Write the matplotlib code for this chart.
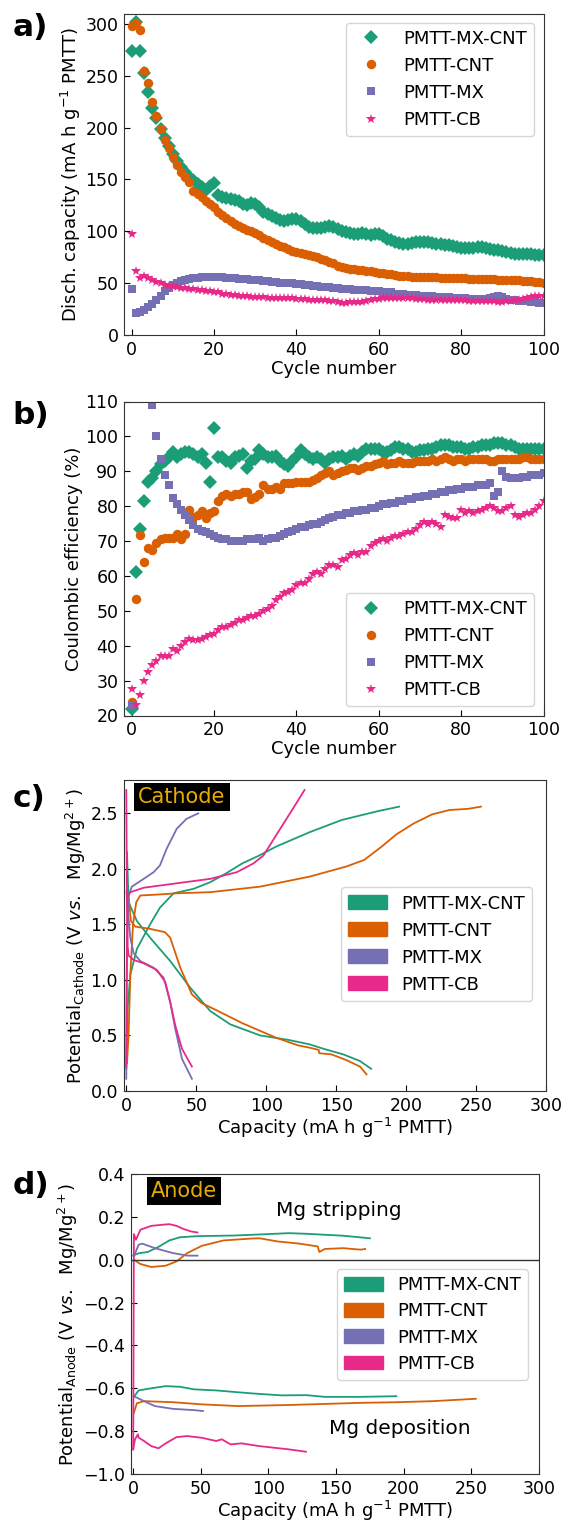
import numpy as np
import matplotlib
matplotlib.use("Agg")
import matplotlib.pyplot as plt
import matplotlib.patches as mpatches

labels = ["PMTT-MX-CNT", "PMTT-CNT", "PMTT-MX", "PMTT-CB"]
colors = ["#1b9e77", "#d95f02", "#7570b3", "#e7298a"]
markers = ["D", "o", "s", "*"]
msizes = [6.8, 6.8, 5.5, 7.5]

cycles = np.arange(101)

# a) discharge capacity (mA h g-1)
cap_mxcnt = [274, 302, 274, 253, 234, 219, 209, 199, 190, 182,
             175, 168, 162, 157, 152, 149, 146, 143, 140, 144,
             147, 135, 133, 132, 131, 130, 129, 126, 125, 127,
             126, 123, 119, 117, 115, 113, 111, 110, 111, 112,
             112, 110, 107, 104, 103, 103, 103, 104, 105, 104,
             102, 100, 99, 98, 97, 97, 98, 97, 96, 97,
             97, 95, 93, 92, 90, 89, 88, 88, 89, 90,
             90, 90, 90, 89, 88, 88, 87, 87, 86, 85,
             84, 84, 84, 84, 85, 85, 84, 83, 82, 82,
             81, 80, 79, 78, 78, 78, 78, 78, 77, 77, 77]
cap_cnt = [298, 301, 294, 255, 243, 225, 211, 199, 188, 180,
           172, 164, 157, 152, 148, 139, 136, 133, 129, 126,
           123, 119, 116, 113, 110, 107, 105, 103, 101, 100,
           98, 96, 94, 92, 90, 88, 86, 85, 83, 81,
           80, 79, 78, 77, 76, 75, 73, 72, 70, 69,
           67, 66, 65, 64, 64, 63, 63, 62, 62, 61,
           60, 60, 59, 59, 58, 57, 57, 57, 56, 56,
           56, 56, 56, 56, 56, 55, 55, 55, 55, 55,
           55, 55, 54, 54, 54, 54, 54, 54, 54, 53,
           53, 53, 53, 53, 53, 52, 52, 52, 51, 51, 50]
cap_mx = [44, 21, 22, 24, 27, 30, 34, 38, 42, 45,
          48, 50, 52, 53, 54, 55, 55, 56, 56, 56,
          56, 56, 56, 55, 55, 55, 54, 54, 54, 53,
          53, 53, 52, 52, 51, 51, 50, 50, 50, 50,
          49, 49, 48, 48, 47, 47, 46, 46, 46, 45,
          45, 44, 44, 44, 43, 43, 43, 43, 42, 42,
          42, 41, 41, 41, 40, 40, 40, 39, 39, 39,
          38, 38, 38, 38, 37, 37, 37, 37, 36, 36,
          36, 36, 35, 35, 35, 35, 35, 36, 37, 38,
          37, 35, 34, 34, 33, 33, 33, 32, 32, 31, 31]
cap_cb = [97, 62, 55, 57, 55, 53, 51, 50, 48, 47,
          47, 46, 45, 45, 44, 44, 43, 43, 42, 42,
          41, 41, 40, 40, 39, 39, 38, 38, 38, 37,
          37, 37, 37, 36, 36, 36, 36, 36, 36, 36,
          35, 35, 35, 34, 34, 34, 34, 34, 33, 33,
          32, 31, 31, 32, 32, 32, 32, 33, 34, 35,
          35, 36, 36, 36, 36, 36, 36, 36, 36, 35,
          35, 35, 34, 34, 34, 34, 34, 34, 34, 34,
          34, 34, 33, 33, 33, 33, 33, 33, 33, 32,
          32, 33, 33, 34, 34, 35, 36, 37, 38, 38, 38]

# b) coulombic efficiency (%)
ce_mxcnt = [22, 61, 73.5, 81.5, 87, 88, 90, 92, 93, 94,
            95.5, 94, 95, 95.5, 95.5, 95, 94, 95, 92.5, 87,
            102.5, 94, 94, 93, 92.5, 94, 94.5, 95, 91, 93,
            93.5, 96, 95, 94, 94, 94.5, 93, 92, 91.5, 93,
            94, 96, 95, 94, 93.5, 94, 93.5, 92.5, 93.5, 94,
            94, 94.5, 93.5, 94.5, 95, 94.5, 95.5, 96.5, 96.5, 96.5,
            96.5, 95.5, 95.5, 96, 97, 97, 96.5, 96.5, 95.5, 95.5,
            96, 96, 96.5, 96.5, 97, 97.5, 97.5, 97.5, 97, 97,
            97, 96.5, 96.5, 97, 97, 97.5, 97.5, 97.5, 98, 98,
            98, 97.5, 97.5, 97, 96.5, 96.5, 96.5, 96.5, 96.5, 96.5, 96.5]
ce_cnt = [24, 53.3, 71.6, 64, 68, 67.5, 69.5, 70.5, 71, 71,
          71, 72, 70.5, 72, 79, 77, 77.5, 78.5, 76.5, 78,
          78.5, 81.5, 83, 83.5, 83, 83.5, 83.5, 84, 84, 82,
          82.5, 83.5, 86, 85, 85, 85.5, 85, 86.5, 86.5, 86.5,
          87, 87, 87, 87, 87.5, 88, 89, 89.5, 90, 89,
          89.5, 90, 90.5, 91, 91, 90.5, 91, 91.5, 91.5, 92,
          92.5, 93, 92, 92.5, 92.5, 93, 92.5, 92.5, 92.5, 93,
          93, 93, 93, 93.5, 93, 93.5, 94, 93.5, 93, 93.5,
          93.5, 93, 93.5, 93.5, 93.5, 93.5, 93.5, 93, 93, 93.5,
          93.5, 93.5, 93.5, 93.5, 93.5, 94, 94, 93.5, 93.5, 93.5, 93.5]
ce_mx = [23, np.nan, np.nan, np.nan, np.nan, 109, 100, 93.6, 89, 86,
         82.2, 80.5, 79, 77.6, 76, 74.5, 73.5, 73, 72.5, 72,
         71.5, 71, 70.5, 70.5, 70, 70, 70, 70, 70.5, 70.5,
         70.5, 71, 70, 70.5, 71, 71, 71.5, 72, 72.5, 73,
         73.5, 74, 74, 74.5, 75, 75, 75.5, 76, 76.5, 77,
         77.5, 77.5, 78, 78, 78.5, 78.5, 79, 79, 79.5, 79.5,
         80, 80.5, 80.5, 81, 81, 81.5, 81.5, 82, 82, 82.5,
         82.5, 83, 83, 83.5, 83.5, 84, 84, 84.5, 84.5, 85,
         85, 85.5, 85.5, 85.5, 86, 86, 86, 86.5, 83, 84,
         90, 88.5, 88, 88, 88, 88.5, 88.5, 89, 89, 89, 89.5]
ce_cb = [27.5, 23, 26, 30, 32.5, 34.5, 35.5, 37, 37, 37,
         39, 38.5, 40, 41, 42, 41.5, 41.5, 42, 42.5, 43,
         43.5, 44.5, 45.5, 45.5, 46, 46.5, 47.5, 47.5, 48, 48.5,
         48.5, 49, 50, 50.5, 51.5, 53, 54, 55, 55.5, 56,
         57.5, 58, 58, 59, 60.5, 61, 60.5, 62, 63, 63,
         62.5, 64.5, 65, 66, 66.5, 66, 67, 67, 68.5, 69.5,
         70, 70.5, 70, 71, 71.5, 71.5, 72, 72.5, 72.5, 73.5,
         74.5, 75.5, 75, 75.5, 75, 74, 77.5, 77, 76.5, 76.5,
         79, 78, 78.5, 78, 78.5, 79, 79.5, 80, 79.5, 78.5,
         78.5, 79.5, 80, 77.5, 77, 77.5, 78, 78, 79, 80, 81.5]

# c) cathode potential profiles: (capacity, potential)
cath_dis = {
    "PMTT-MX-CNT": ([0.5, 1.6, 7.6, 17, 31.4, 45.7, 60, 74.3, 95.7, 116, 131, 141, 155, 167, 175],
                    [2.15, 1.70, 1.53, 1.38, 1.17, 0.93, 0.72, 0.60, 0.50, 0.46, 0.42, 0.38, 0.33, 0.27, 0.20]),
    "PMTT-CNT": ([0.5, 1.6, 3.3, 6.4, 17, 27.6, 31.4, 38.6, 46.9, 54, 64, 83, 107, 123, 131, 137.5, 138, 146.5, 157, 167, 171.7],
                 [1.78, 1.76, 1.53, 1.48, 1.46, 1.43, 1.38, 1.11, 0.87, 0.79, 0.73, 0.61, 0.48, 0.41, 0.39, 0.37, 0.34, 0.33, 0.28, 0.22, 0.15]),
    "PMTT-MX": ([0.2, 0.5, 2.9, 5.2, 10, 19.5, 26.7, 31.4, 35, 39.8, 46.9],
                [1.80, 1.70, 1.38, 1.24, 1.17, 1.11, 1.02, 0.80, 0.56, 0.29, 0.11]),
    "PMTT-CB": ([0, 0.4, 1.0, 1.6, 5.2, 12.4, 21.9, 27.9, 31.4, 35, 39.8, 46.9],
                [2.71, 1.85, 1.30, 1.22, 1.18, 1.15, 1.09, 0.98, 0.80, 0.59, 0.38, 0.22]),
}
cath_chg = {
    "PMTT-MX-CNT": ([0, 0.95, 2.9, 7.6, 17, 24, 33.8, 48, 60, 71.4, 83, 95, 107, 131, 154, 180, 195],
                    [0.20, 0.75, 1.05, 1.28, 1.50, 1.65, 1.78, 1.82, 1.88, 1.96, 2.05, 2.12, 2.20, 2.33, 2.44, 2.52, 2.56]),
    "PMTT-CNT": ([0.5, 1.6, 2.9, 4.8, 7.1, 10, 24, 36, 60, 95.7, 131, 157, 170, 182.5, 193, 205.6, 218.5, 231, 244, 253.5],
                 [0.25, 0.50, 1.05, 1.50, 1.70, 1.76, 1.77, 1.78, 1.79, 1.84, 1.93, 2.02, 2.08, 2.20, 2.31, 2.41, 2.49, 2.53, 2.54, 2.56]),
    "PMTT-MX": ([0, 0.5, 1.6, 4, 12.4, 19.5, 24, 28.8, 36, 43, 51.4],
                [0.11, 1.35, 1.76, 1.84, 1.91, 1.97, 2.03, 2.18, 2.36, 2.45, 2.50]),
    "PMTT-CB": ([0, 0.3, 0.8, 2.9, 12.4, 36, 60, 79, 91, 98, 107, 119, 127.4],
                [0.22, 1.0, 1.75, 1.79, 1.83, 1.87, 1.91, 1.97, 2.05, 2.12, 2.30, 2.54, 2.71]),
}

# d) anode potential profiles: (capacity, potential)
anode_strip = {
    "PMTT-MX-CNT": ([0, 4, 10.7, 18.7, 26.7, 34.7, 48, 75, 101.5, 115, 128, 155, 175],
                    [0.02, 0.03, 0.036, 0.06, 0.09, 0.105, 0.11, 0.113, 0.12, 0.124, 0.121, 0.112, 0.10]),
    "PMTT-CNT": ([0.5, 5.3, 13.4, 24, 32, 40, 50.8, 66.8, 88, 93.5, 107, 123, 136.4, 137.6, 141.6, 155, 168, 171.5],
                 [0.0, -0.02, -0.034, -0.028, -0.008, 0.031, 0.065, 0.09, 0.099, 0.10, 0.085, 0.075, 0.062, 0.036, 0.05, 0.054, 0.047, 0.05]),
    "PMTT-MX": ([0.5, 4, 6.7, 16, 29.4, 40, 47.5],
                [0.016, 0.07, 0.075, 0.054, 0.031, 0.019, 0.019]),
    "PMTT-CB": ([0, 0.5, 2, 5.3, 13.4, 21.4, 26.7, 32, 37.4, 42.7, 47.5],
                [-0.885, 0.12, 0.093, 0.14, 0.158, 0.163, 0.166, 0.158, 0.143, 0.132, 0.127]),
}
anode_dep = {
    "PMTT-MX-CNT": ([0.5, 4, 13.4, 24, 34.7, 45, 61.4, 88, 109.5, 128, 141.6, 168, 194.5],
                    [-0.64, -0.61, -0.60, -0.59, -0.593, -0.605, -0.61, -0.624, -0.633, -0.632, -0.64, -0.64, -0.637]),
    "PMTT-CNT": ([0.5, 2.7, 8, 29.4, 50.8, 77.5, 115, 168, 195, 221.7, 253.3],
                 [-0.714, -0.67, -0.66, -0.665, -0.675, -0.683, -0.678, -0.668, -0.665, -0.66, -0.649]),
    "PMTT-MX": ([0.5, 8, 16, 29.4, 45, 51.6],
                [-0.637, -0.66, -0.683, -0.696, -0.702, -0.706]),
    "PMTT-CB": ([0, 1.3, 3.5, 4, 8, 13.4, 18.7, 24, 32, 40, 50.8, 61.4, 65.5, 72, 80, 93.5, 115, 127.7],
                [-0.885, -0.838, -0.815, -0.83, -0.846, -0.87, -0.88, -0.857, -0.828, -0.823, -0.831, -0.846, -0.838, -0.862, -0.857, -0.87, -0.885, -0.896]),
}

plt.rcParams["font.family"] = "DejaVu Sans"
plt.rcParams["font.size"] = 13
plt.rcParams["xtick.labelsize"] = 12.5
plt.rcParams["ytick.labelsize"] = 12.5
plt.rcParams["axes.edgecolor"] = "#333333"
plt.rcParams["xtick.direction"] = "in"
plt.rcParams["ytick.direction"] = "in"

fig = plt.figure(figsize=(5.63, 15.23), dpi=100)
W, H = 563.0, 1523.0


def add_ax(left, top, right, bottom):
    return fig.add_axes([left / W, 1 - bottom / H, (right - left) / W, (bottom - top) / H])


ax_a = add_ax(124, 13.5, 543.5, 335)
ax_b = add_ax(124, 401.5, 543.5, 715.5)
ax_c = add_ax(123.5, 780, 546, 1091)
ax_d = add_ax(130.5, 1174, 539, 1474)

# panel a
for y, lab, c, m, s in zip([cap_mxcnt, cap_cnt, cap_mx, cap_cb], labels, colors, markers, msizes):
    ax_a.plot(cycles, y, ls="none", marker=m, ms=s, color=c, mew=0, label=lab)
ax_a.set_xlim(-1.87, 100)
ax_a.set_ylim(0, 310)
ax_a.set_yticks(range(0, 301, 50))
ax_a.set_xticks(range(0, 101, 20))
ax_a.set_xlabel("Cycle number", labelpad=1)
ax_a.set_ylabel("Disch. capacity (mA h g$^{-1}$ PMTT)", labelpad=2)
ax_a.legend(loc="upper right", borderaxespad=0.5)

# panel b
for y, lab, c, m, s in zip([ce_mxcnt, ce_cnt, ce_mx, ce_cb], labels, colors, markers, msizes):
    ax_b.plot(cycles, y, ls="none", marker=m, ms=s, color=c, mew=0, label=lab)
ax_b.set_xlim(-1.87, 100)
ax_b.set_ylim(20, 110)
ax_b.set_yticks(range(20, 111, 10))
ax_b.set_xticks(range(0, 101, 20))
ax_b.set_xlabel("Cycle number", labelpad=1)
ax_b.set_ylabel("Coulombic efficiency (%)", labelpad=2)
ax_b.legend(loc="lower right", borderaxespad=0.5)

# panel c
for lab, c in zip(labels, colors):
    x, y = cath_dis[lab]
    ax_c.plot(x, y, color=c, lw=1.3)
    x, y = cath_chg[lab]
    ax_c.plot(x, y, color=c, lw=1.3)
ax_c.set_xlim(-2, 300)
ax_c.set_ylim(0, 2.8)
ax_c.set_xticks(range(0, 301, 50))
ax_c.set_yticks([0, 0.5, 1.0, 1.5, 2.0, 2.5])
ax_c.set_xlabel("Capacity (mA h g$^{-1}$ PMTT)", labelpad=1)
ax_c.set_ylabel(r"Potential$_{\mathrm{Cathode}}$ (V $\it{vs.}$  Mg/Mg$^{2+}$)", labelpad=2)
handles = [mpatches.Patch(color=c, label=lab) for lab, c in zip(labels, colors)]
ax_c.legend(handles=handles, loc="upper right", bbox_to_anchor=(0.968, 0.655),
            borderaxespad=0, handlelength=2.15, handleheight=0.8)
ax_c.text(0.035, 0.977, "Cathode", transform=ax_c.transAxes, ha="left", va="top",
          color="#e6ab02", fontsize=15, bbox=dict(facecolor="black", edgecolor="none", pad=3))

# panel d
for lab, c in zip(labels, colors):
    x, y = anode_strip[lab]
    ax_d.plot(x, y, color=c, lw=1.3)
    x, y = anode_dep[lab]
    ax_d.plot(x, y, color=c, lw=1.3)
ax_d.axhline(0, color="#333333", lw=1.0)
ax_d.set_xlim(-2, 300)
ax_d.set_ylim(-1.0, 0.4)
ax_d.set_xticks(range(0, 301, 50))
ax_d.set_yticks([-1.0, -0.8, -0.6, -0.4, -0.2, 0.0, 0.2, 0.4])
ax_d.set_xlabel("Capacity (mA h g$^{-1}$ PMTT)", labelpad=1)
ax_d.set_ylabel(r"Potential$_{\mathrm{Anode}}$ (V $\it{vs.}$  Mg/Mg$^{2+}$)", labelpad=2)
ax_d.legend(handles=handles, loc="upper right", bbox_to_anchor=(0.973, 0.683),
            borderaxespad=0, handlelength=2.15, handleheight=0.8, labelspacing=0.45)
ax_d.text(0.050, 0.977, "Anode", transform=ax_d.transAxes, ha="left", va="top",
          color="#e6ab02", fontsize=15, bbox=dict(facecolor="black", edgecolor="none", pad=3))
ax_d.text(152, 0.23, "Mg stripping", ha="center", va="center", fontsize=14.5)
ax_d.text(197, -0.79, "Mg deposition", ha="center", va="center", fontsize=14.5)

for ax in (ax_a, ax_b, ax_c, ax_d):
    ax.tick_params(length=4, width=0.8, pad=4)

for lab, ybase in zip(["a)", "b)", "c)", "d)"], [36, 424, 807, 1194]):
    fig.text(12.5 / W, 1 - ybase / H, lab, fontsize=22.5, fontweight="bold", va="baseline", ha="left")

fig.savefig("out.png", dpi=100)
